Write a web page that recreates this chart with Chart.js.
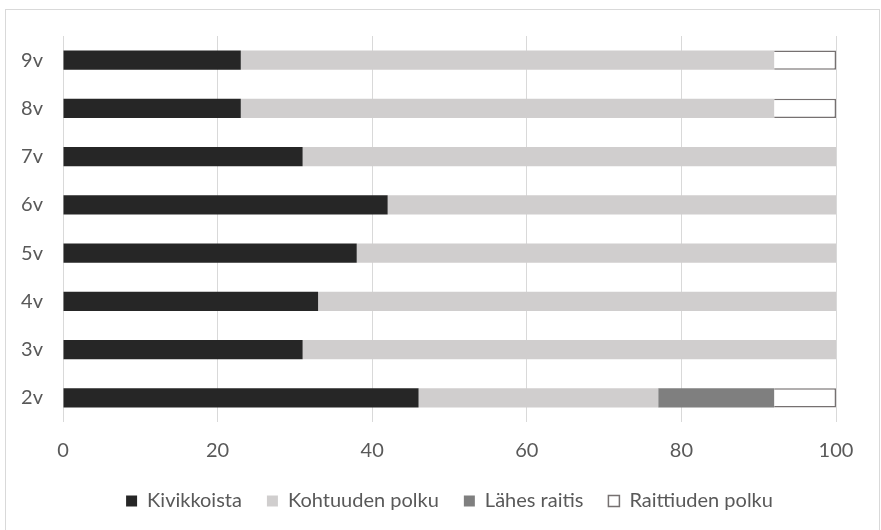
<!DOCTYPE html>
<html>
<head>
<meta charset="utf-8">
<script src="https://cdn.jsdelivr.net/npm/chart.js@4.4.1/dist/chart.umd.min.js"></script>
<style>
  body { margin: 0; background: #fff; }
  #wrap { position: relative; width: 881px; height: 530px; overflow: hidden; }
  #frame { position: absolute; left: 5px; top: 9px; width: 873px; height: 560px; border: 1px solid #d9d9d9; }
  canvas { position: absolute; left: 0; top: 0; }
</style>
</head>
<body>
<div id="wrap">
  <div id="frame"></div>
  <canvas id="chart" width="881" height="530"></canvas>
</div>
<script>
const labels = ["9v", "8v", "7v", "6v", "5v", "4v", "3v", "2v"];
const kivikkoista = [23, 23, 31, 42, 38, 33, 31, 46];
const kohtuuden = [69, 69, 69, 58, 62, 67, 69, 31];
const lahesRaitis = [null, null, null, null, null, null, null, 15];
const raittiuden = [8, 8, null, null, null, null, null, 8];
const xTicks = [0, 20, 40, 60, 80, 100];

const font = { family: "Lato", size: 20 };
const textColor = "#595959";

const data = {
  labels: labels,
  datasets: [
    { label: "Kivikkoista", data: kivikkoista, backgroundColor: "#262626", borderWidth: 0 },
    { label: "Kohtuuden polku", data: kohtuuden, backgroundColor: "#d0cece", borderWidth: 0 },
    { label: "Lähes raitis", data: lahesRaitis, backgroundColor: "#7f7f7f", borderWidth: 0 },
    { label: "Raittiuden polku", data: raittiuden, backgroundColor: "#ffffff", borderColor: "#767171", borderWidth: 1.5 },
  ],
};

const config = {
  type: "bar",
  data: data,
  options: {
    indexAxis: "y",
    responsive: false,
    animation: false,
    barPercentage: 0.4,
    categoryPercentage: 1,
    layout: { padding: { top: 36, right: 45, left: 0, bottom: 9 } },
    scales: {
      x: {
        stacked: true,
        min: 0,
        max: 100,
        afterBuildTicks: (scale) => {
          scale.ticks = xTicks.map((v) => ({ value: v }));
        },
        afterFit: (scale) => {
          scale.height = 44;
        },
        grid: { color: "#d9d9d9", lineWidth: 1, drawTicks: false },
        border: { display: false },
        ticks: { color: textColor, font: font, padding: 17 },
      },
      y: {
        stacked: true,
        afterFit: (scale) => {
          scale.width = 63;
        },
        grid: { display: false, drawTicks: false },
        border: { display: false },
        ticks: { color: textColor, font: font, padding: 20 },
      },
    },
    plugins: {
      tooltip: { enabled: false },
      legend: {
        position: "bottom",
        fullSize: false,
        labels: {
          color: textColor,
          font: font,
          boxWidth: 11,
          boxHeight: 11,
          padding: 25,
          useBorderRadius: false,
        },
      },
    },
  },
};

new Chart(document.getElementById("chart"), config);
</script>
</body>
</html>
